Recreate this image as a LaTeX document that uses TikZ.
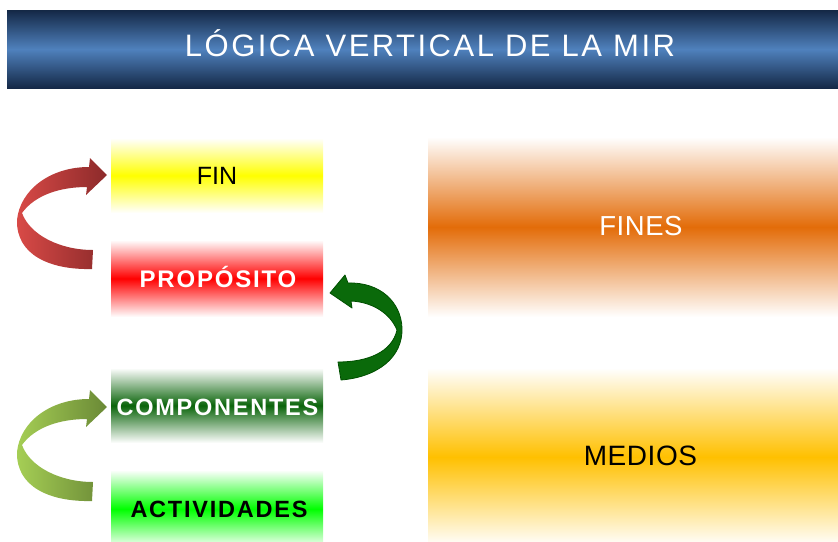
\documentclass[tikz,border=0pt]{standalone}
\usepackage{fontspec}
\setmainfont{Liberation Sans}
\newfontfamily\hdrfont[LetterSpace=8]{Liberation Sans}
\newfontfamily\lblfont[LetterSpace=7.5]{Liberation Sans}
\newfontfamily\finfont{Liberation Sans}
\newfontfamily\rgtfont[LetterSpace=2]{Liberation Sans}
\definecolor{navy}{HTML}{142846}
\definecolor{hdrblue}{HTML}{4F81BD}
\definecolor{cfin}{HTML}{FFFF00}
\definecolor{cprop}{HTML}{FF0000}
\definecolor{ccomp}{HTML}{0A640A}
\definecolor{cact}{HTML}{00FF00}
\definecolor{cfines}{HTML}{E36C09}
\definecolor{cmedios}{HTML}{FFC000}
\definecolor{redL}{HTML}{D94A47}
\definecolor{redR}{HTML}{8C2A2A}
\definecolor{grnL}{HTML}{A6CF55}
\definecolor{grnR}{HTML}{6A8936}
\definecolor{dkgrn}{HTML}{0A6A0A}
\definecolor{dkgrnE}{HTML}{004F00}
\begin{document}
\begin{tikzpicture}[x=1pt,y=-1pt,
  band/.style={inner sep=0pt, outer sep=0pt, anchor=north west,
    top color=white, bottom color=white, middle color=#1},
  txt/.style={inner sep=0pt, anchor=base},
  redarrow/.style={left color=redL, right color=redR, draw=none},
  grnarrow/.style={left color=grnL, right color=grnR, draw=none},
  dkarrow/.style={fill=dkgrn, draw=dkgrnE, line width=0.8pt, line join=round}
]
\useasboundingbox (0,0) rectangle (838,541);
\clip (0,0) rectangle (838,541);

% header
\node[inner sep=0pt, anchor=north west, minimum width=846pt, minimum height=78pt,
  top color=navy, bottom color=navy, middle color=hdrblue] (header) at (7,10) {};
\node[txt, text=white, font=\hdrfont\fontsize{31}{36}\selectfont] (title) at (430,56) {LÓGICA VERTICAL DE LA MIR};

% left bands
\node[band=cfin, minimum width=212pt, minimum height=75pt] (fin) at (111,138) {};
\node[band=cprop, minimum width=212pt, minimum height=77pt] (prop) at (111,240) {};
\node[band=ccomp, minimum width=212pt, minimum height=75pt] (comp) at (111,368) {};
\node[band=cact, minimum width=212pt, minimum height=78pt] (act) at (111,470) {};

% right bands
\node[band=cfines, minimum width=424pt, minimum height=180pt] (fines) at (428,137) {};
\node[band=cmedios, minimum width=424pt, minimum height=178pt] (medios) at (428,368) {};

% texts
\node[txt, text=black, font=\finfont\fontsize{25}{30}\selectfont] (fin-t) at (217,184) {FIN};
\node[txt, text=white, font=\lblfont\bfseries\fontsize{24}{28}\selectfont] (prop-t) at (218,287) {PROPÓSITO};
\node[txt, text=white, font=\lblfont\bfseries\fontsize{23.5}{28}\selectfont] (comp-t) at (217.5,415) {COMPONENTES};
\node[txt, text=black, font=\lblfont\bfseries\fontsize{23.5}{28}\selectfont] (act-t) at (219,517) {ACTIVIDADES};
\node[txt, text=white, font=\rgtfont\fontsize{27.5}{32}\selectfont] (fines-t) at (641,235) {FINES};
\node[txt, text=black, font=\rgtfont\fontsize{28}{32}\selectfont] (medios-t) at (640.5,465) {MEDIOS};

% red curved arrow (PROPOSITO -> FIN)
\path[redarrow] (89,167) .. controls (50,167) and (20,190) .. (17,220)
  .. controls (16,255) and (50,270) .. (92,269) -- (93,250)
  .. controls (60,250) and (30,235) .. (22,213)
  .. controls (35,195) and (60,187) .. (87,187)
  -- (86,195) -- (107,175) -- (90,158) -- cycle;

% light green curved arrow (ACTIVIDADES -> COMPONENTES)
\begin{scope}[shift={(0,232)}]
\path[grnarrow] (89,167) .. controls (50,167) and (20,190) .. (17,220)
  .. controls (16,255) and (50,270) .. (92,269) -- (93,250)
  .. controls (60,250) and (30,235) .. (22,213)
  .. controls (35,195) and (60,187) .. (87,187)
  -- (86,195) -- (107,175) -- (90,158) -- cycle;
\end{scope}

% dark green curved arrow (COMPONENTES -> PROPOSITO)
\path[dkarrow] (348,283) .. controls (380,282) and (401,302) .. (402,328)
  .. controls (403,357) and (378,377) .. (341,380) -- (338,362)
  .. controls (368,362) and (392,352) .. (397,330)
  .. controls (390,313) and (372,302) .. (351,301)
  -- (352,308) -- (330,293) -- (345,275) -- cycle;
\end{tikzpicture}
\end{document}
